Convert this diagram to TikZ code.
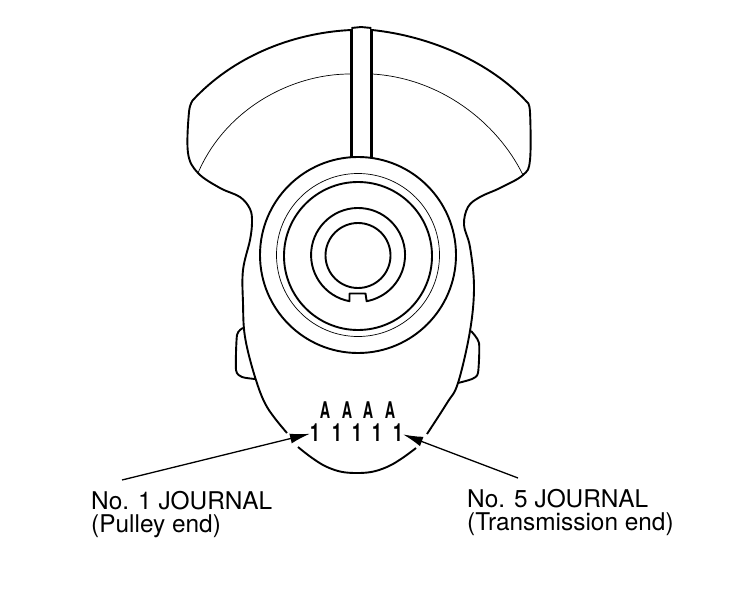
\documentclass[tikz,border=0pt]{standalone}
\usepackage{fontspec}
\setmainfont{TeX Gyre Heros}
\usetikzlibrary{arrows.meta}
\tikzset{
  body/.style={line width=1.9pt, line join=round},
  slot/.style={line width=3pt},
  thinline/.style={line width=.7pt},
  pointer/.style={line width=1.3pt, -{Latex[length=20pt,width=10pt]}},
  callout/.style={align=left, anchor=north west, inner sep=0pt, font=\fontsize{24.4}{23.5}\selectfont},
  capletter/.style={inner sep=0pt, xscale=.62, font=\bfseries\fontsize{23}{23}\selectfont},
  numeral/.style={inner sep=0pt, xscale=.7, font=\bfseries\fontsize{25}{25}\selectfont}
}
\begin{document}
\begin{tikzpicture}[x=1pt,y=-1pt]
\useasboundingbox (0,0) rectangle (752,596);

% housing, left side
\draw [body] (351,30) .. controls (290,33) and (232,58) .. (193,100) -- plot [smooth, tension=.6] coordinates {(193,100) (189,112) (188,153) (198,173) (220,188) (240,197) (250,209) (252,222) (250,240) (243,270) (243,303) (245,337) (255,377) (267,407) (287,433)};
% housing, right side
\draw [body] (372,30) .. controls (430,36) and (490,62) .. (527,102) -- plot [smooth, tension=.6] coordinates {(527,102) (530,112) (530,160) (523,175) (500,188) (480,197) (468,207) (464,225) (470,247) (474,287) (470,331) (458,383) (447,403) (427,434)};
% bottom
\draw [body] plot [smooth, tension=.7] coordinates {(298,447) (327,467) (357,473) (387,467) (416,448)};

% side tabs
\draw [body] plot [smooth, tension=.4] coordinates {(243,328) (237,335) (236,370) (242,377) (255,379)};
\draw [body] plot [smooth, tension=.4] coordinates {(471,331) (479,343) (478,373) (472,379) (458,383)};

% oil slot
\draw [slot] (351.4,157) -- (351.4,29);
\draw [slot] (371.4,157) -- (371.4,29);
\draw [body] (351.4,28) -- (361,27) -- (371.4,28);

% inner arc
\draw [thinline] (198,173) .. controls (225,110) and (290,74) .. (350,74);
\draw [thinline] (372,74) .. controls (440,78) and (497,122) .. (523,175);

% journal
\draw [body] (358,255) circle (98);
\draw [thinline] (358,255) circle (81.5);
\draw [body] (358,256) circle (74);
\draw [body] (358,255.5) circle (32.5);
\draw [body] (349.5,301.2) arc (259.5:-79.5:47pt) -- (365.5,293.5) -- (349.5,293.5) -- cycle;

% letters
\foreach \name/\x in {a/325,b/347,c/368,d/390}
  \node [capletter] (cap\name) at (\x,410) {A};
\foreach \name/\x in {a/315,b/337,c/357,d/377,e/398}
  \node [numeral] (num\name) at (\x,432.5) {1};

\node [callout] (labelA) at (91,491) {No. 1 JOURNAL\\(Pulley end)};
\node [callout] (labelB) at (467,489) {No. 5 JOURNAL\\(Transmission end)};

\coordinate (tailA) at (122,480);
\coordinate (tailB) at (518,478);
\draw [pointer] (tailA) -- (numa);
\draw [pointer] (tailB) -- (nume);
\end{tikzpicture}
\end{document}
